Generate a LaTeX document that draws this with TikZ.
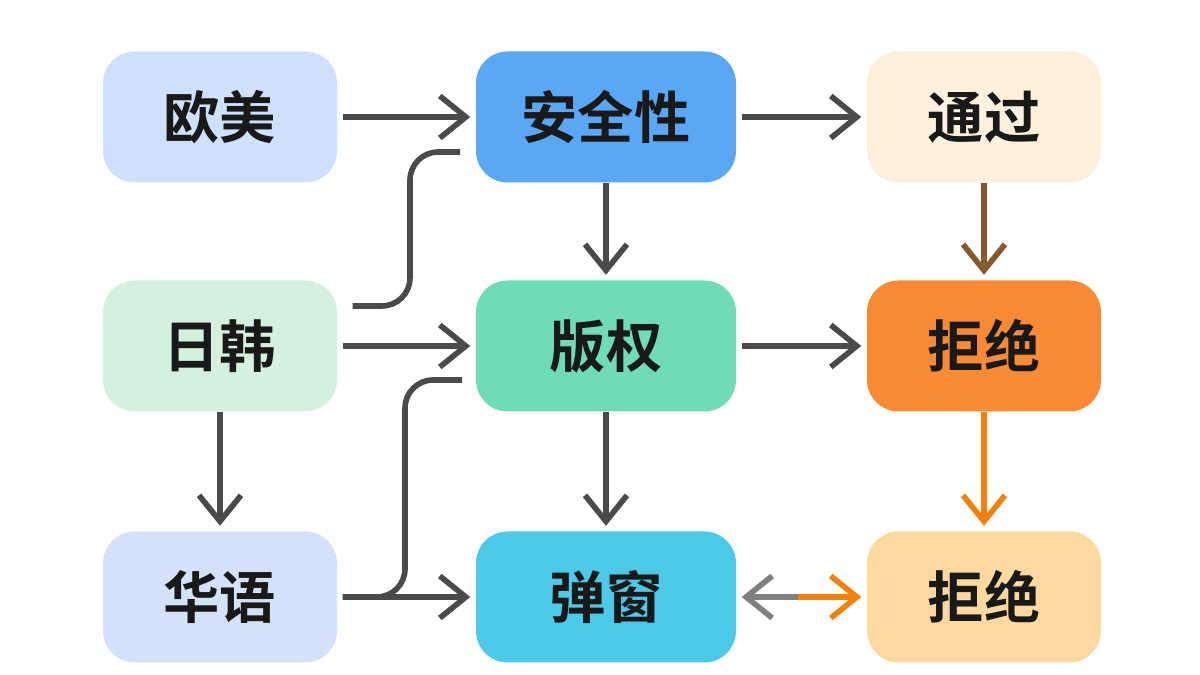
\documentclass[tikz,border=0pt]{standalone}
\usepackage{fontspec}
\setmainfont{Noto Sans CJK SC}[BoldFont={Noto Sans CJK SC Bold}]
\usetikzlibrary{arrows.meta}
\definecolor{cOumei}{HTML}{CFE0FA}
\definecolor{cAnquan}{HTML}{5AA8F5}
\definecolor{cTongguo}{HTML}{FDF0DC}
\definecolor{cRihan}{HTML}{D5F0DC}
\definecolor{cBanquan}{HTML}{6FDCB5}
\definecolor{cJujue}{HTML}{F98A35}
\definecolor{cHuayu}{HTML}{D3E2F8}
\definecolor{cTanchuang}{HTML}{4CC8E8}
\definecolor{cJujueB}{HTML}{FDD9A0}
\definecolor{cLine}{HTML}{4A4A4A}
\tikzset{
  box/.style={rounded corners=9pt, minimum height=13.1mm, font=\fontsize{16}{18}\selectfont\bfseries, text=black!90},
  narrow/.style={box, minimum width=23.4mm},
  wide/.style={box, minimum width=26mm},
  arr/.style={draw=cLine, line width=1.6pt, -{Straight Barb[length=2.6mm,width=4.2mm]}},
  bendline/.style={draw=cLine, line width=1.6pt, rounded corners=8pt}
}
\begin{document}
\begin{tikzpicture}[x={10.0mm},y={10.0mm}]
\useasboundingbox (0,0) rectangle (12,6.75);
\fill[white] (0,0) rectangle (12,6.75);

\node[narrow, fill=cOumei] (oumei) at (2.20,5.58) {欧美};
\node[wide, fill=cAnquan] (anquan) at (6.06,5.58) {安全性};
\node[narrow, fill=cTongguo] (tongguo) at (9.84,5.58) {通过};

\node[narrow, fill=cRihan] (rihan) at (2.20,3.29) {日韩};
\node[wide, fill=cBanquan] (banquan) at (6.06,3.29) {版权};
\node[narrow, fill=cJujue] (jujue) at (9.84,3.29) {拒绝};

\node[narrow, fill=cHuayu] (huayu) at (2.20,0.78) {华语};
\node[wide, fill=cTanchuang] (tanchuang) at (6.06,0.78) {弹窗};
\node[narrow, fill=cJujueB] (jujueB) at (9.84,0.78) {拒绝};

% free ends of the bent lines
\coordinate (topEnd) at (4.60,5.23);
\coordinate (midEnd) at (4.62,2.95);
\coordinate (swapMid) at (7.98,0.78);

\draw[arr] ([xshift=0.5mm]oumei.east) -- ([xshift=-0.5mm]anquan.west);
\draw[arr] ([xshift=0.5mm]anquan.east) -- ([xshift=-0.5mm]tongguo.west);
\draw[arr] ([xshift=0.5mm]rihan.east) -- ([xshift=-0.5mm]banquan.west);
\draw[arr] ([xshift=0.5mm]banquan.east) -- ([xshift=-0.5mm]jujue.west);
\draw[arr] ([xshift=0.5mm]huayu.east) -- ([xshift=-0.5mm]tanchuang.west);

\draw[arr] (anquan.south) -- ([yshift=0.5mm]banquan.north);
\draw[arr] (banquan.south) -- ([yshift=0.5mm]tanchuang.north);
\draw[arr] (rihan.south) -- ([yshift=0.5mm]huayu.north);
\draw[arr, draw=brown!70!black] (tongguo.south) -- ([yshift=0.5mm]jujue.north);
\draw[arr, draw=orange!80!brown] (jujue.south) -- ([yshift=0.5mm]jujueB.north);

\draw[bendline] ([xshift=1.5mm,yshift=4mm]rihan.east) -| (4.10,4.5) |- (topEnd);
\draw[bendline] ([xshift=0.5mm]huayu.east) -| (4.05,2.0) |- (midEnd);

\draw[arr, draw=gray, {Straight Barb[length=2.6mm,width=4.2mm]}-] ([xshift=0.5mm]tanchuang.east) -- (swapMid);
\draw[arr, draw=orange!85!brown] (swapMid) -- ([xshift=-0.5mm]jujueB.west);
\end{tikzpicture}
\end{document}
